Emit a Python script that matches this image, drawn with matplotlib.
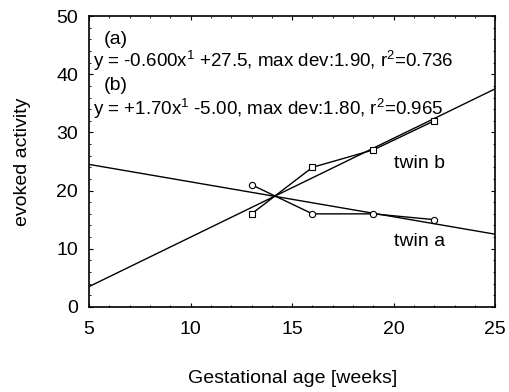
import matplotlib
matplotlib.use("Agg")
import matplotlib.pyplot as plt
import numpy as np
from matplotlib.ticker import MultipleLocator

plt.rcParams["font.family"] = ["Liberation Sans", "DejaVu Sans"]
plt.rcParams["mathtext.fontset"] = "custom"
plt.rcParams["mathtext.rm"] = "Liberation Sans"
plt.rcParams["mathtext.it"] = "Liberation Sans"

# gestational age of the measurements [weeks]
weeks = [13, 16, 19, 22]
twin_a = [21, 16, 16, 15]
twin_b = [16, 24, 27, 32]

# linear fits (slope, intercept) as printed in the figure
fit_a = (-0.600, 27.5)
fit_b = (1.70, -5.00)
fit_x = [5, 25]

eq_a = r"y = -0.600x$^{1}$ +27.5, max dev:1.90, r$^{2}$=0.736"
eq_b = r"y = +1.70x$^{1}$ -5.00, max dev:1.80, r$^{2}$=0.965"

fig = plt.figure(figsize=(5.09, 3.92), dpi=100)
ax = fig.add_axes([0.175, 0.217, 0.798, 0.742])

xf = np.array(fit_x, dtype=float)
ax.plot(xf, fit_a[0] * xf + fit_a[1], color="black", lw=1.0)
ax.plot(xf, fit_b[0] * xf + fit_b[1], color="black", lw=1.0)
ax.plot(weeks, twin_a, color="black", lw=1.0, marker="o", ms=4.5,
        mfc="white", mec="black", mew=0.8)
ax.plot(weeks, twin_b, color="black", lw=1.0, marker="s", ms=4.5,
        mfc="white", mec="black", mew=0.8)

ax.set_xlim(5, 25)
ax.set_ylim(0, 50)
ax.xaxis.set_major_locator(MultipleLocator(5))
ax.yaxis.set_major_locator(MultipleLocator(10))
ax.xaxis.set_minor_locator(MultipleLocator(1))
ax.yaxis.set_minor_locator(MultipleLocator(2))
ax.tick_params(which="both", direction="in", top=True, right=True,
               labelsize=14)
ax.tick_params(which="major", length=3, width=0.8)
ax.tick_params(which="minor", length=1.5, width=0.6)
ax.tick_params(axis="x", which="major", pad=10)
ax.tick_params(axis="y", which="major", pad=8)
for s in ax.spines.values():
    s.set_linewidth(1.2)

ax.text(5.7, 45.9, "(a)", fontsize=14, va="center")
ax.text(5.2, 42.3, eq_a, fontsize=13.5, va="center")
ax.text(5.7, 38.1, "(b)", fontsize=14, va="center")
ax.text(5.2, 34.0, eq_b, fontsize=13.5, va="center")
ax.text(20.0, 24.7, "twin b", fontsize=14, va="center")
ax.text(20.0, 11.3, "twin a", fontsize=14, va="center")

ax.set_xlabel("Gestational age [weeks]", fontsize=14, labelpad=23)
ax.set_ylabel("evoked activity", fontsize=14, labelpad=18)

fig.savefig("out.png", dpi=100)
